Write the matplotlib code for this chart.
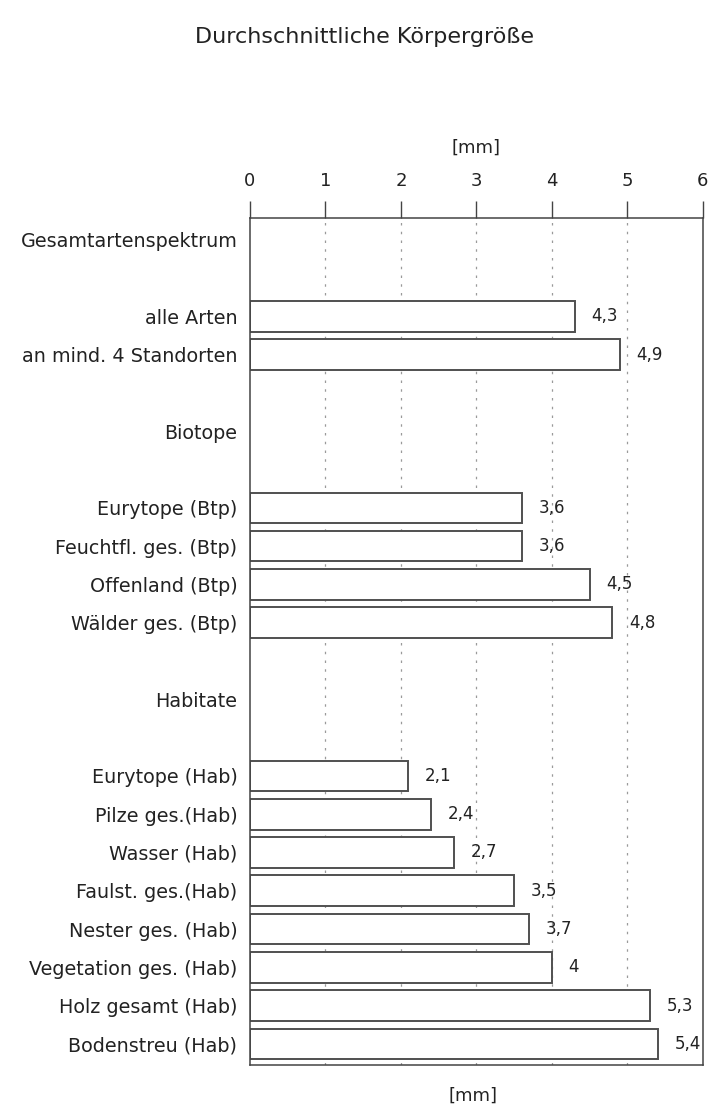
import matplotlib.pyplot as plt

plt.rcParams['font.family'] = ['DejaVu Sans']

# groups of the chart: header name and the rows under it
groups = ['Gesamtartenspektrum', 'Biotope', 'Habitate']
names_ges = ['alle Arten', 'an mind. 4 Standorten']
vals_ges = [4.3, 4.9]
names_btp = ['Eurytope (Btp)', 'Feuchtfl. ges. (Btp)', 'Offenland (Btp)', 'Wälder ges. (Btp)']
vals_btp = [3.6, 3.6, 4.5, 4.8]
names_hab = ['Eurytope (Hab)', 'Pilze ges.(Hab)', 'Wasser (Hab)', 'Faulst. ges.(Hab)',
             'Nester ges. (Hab)', 'Vegetation ges. (Hab)', 'Holz gesamt (Hab)', 'Bodenstreu (Hab)']
vals_hab = [2.1, 2.4, 2.7, 3.5, 3.7, 4, 5.3, 5.4]
ticks = [0, 1, 2, 3, 4, 5, 6]

fig = plt.figure(figsize=(7.1, 11.18), dpi=100)
ax = fig.add_axes([0.352, 0.0474, 0.638, 0.7576])

# header row, blank row, bars, blank row ...
lab_y, lab_txt = [], []
bar_y, bar_v = [], []
row = 0
for head, names, vals in zip(groups, [names_ges, names_btp, names_hab],
                             [vals_ges, vals_btp, vals_hab]):
    lab_y.append(row)
    lab_txt.append(head)
    row += 2
    for n, v in zip(names, vals):
        bar_y.append(row)
        bar_v.append(v)
        lab_y.append(row)
        lab_txt.append(n)
        row += 1
    row += 1

for x in ticks[1:-1]:
    ax.axvline(x, color='#9a9a9a', lw=0.9, ls=(0, (2, 5)), zorder=0)

ax.barh(bar_y, bar_v, height=0.8, color='white', edgecolor='#505050', lw=1.4, zorder=2)

for y, v in zip(bar_y, bar_v):
    txt = ('%g' % v).replace('.', ',')
    ax.annotate(txt, (v, y), xytext=(12, 0), textcoords='offset points',
                va='center', ha='left', fontsize=12, color='#222222', clip_on=False)

ax.set_xlim(0, 6)
ax.set_ylim(21.55, -0.57)
ax.set_yticks(lab_y)
ax.set_yticklabels(lab_txt, fontsize=13.8, color='#222222')
ax.tick_params(axis='y', length=0, pad=9)

ax.xaxis.tick_top()
ax.set_xticks(ticks)
ax.tick_params(axis='x', length=12, width=1, color='#444444', labelsize=13,
               labelcolor='#222222', pad=8, direction='out')
ax.set_xlabel('[mm]', fontsize=13, color='#222222', labelpad=14)
ax.xaxis.set_label_position('top')

for s in ax.spines.values():
    s.set_color('#444444')
    s.set_linewidth(1.1)

fig.text(0.666, 0.012, '[mm]', ha='center', va='bottom', fontsize=13, color='#222222')
fig.text(0.514, 0.967, 'Durchschnittliche Körpergröße', ha='center', va='center',
         fontsize=16, color='#222222')

fig.savefig('out.png', dpi=100)
